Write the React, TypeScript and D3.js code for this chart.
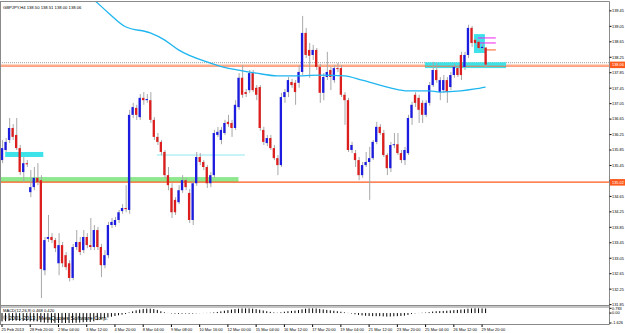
import * as React from 'react'
import * as d3 from 'd3'

// GBPJPY H4 candles
const opens = [
  135.59, 135.85, 136.11, 136.42, 136.24, 135.90, 135.28, 135.51, 134.76, 134.89, 135.13, 135.07, 132.74, 133.55,
  133.60, 133.52, 132.92, 133.39, 133.13, 132.92, 132.54, 133.34, 133.47, 133.26, 133.60, 133.39, 133.34, 133.78,
  133.34, 132.87, 133.13, 133.91, 133.91, 134.04, 134.27, 134.35, 134.30, 136.76, 136.94, 136.70, 137.20, 137.14,
  137.14, 136.63, 136.19, 136.06, 135.80, 135.20, 134.87, 134.56, 134.50, 134.81, 135.07, 134.74, 134.04, 134.99,
  135.67, 135.54, 135.41, 134.99, 135.20, 136.24, 136.11, 136.29, 136.58, 136.55, 136.42, 136.96, 137.72, 137.35,
  137.40, 137.84, 137.46, 137.48, 136.37, 136.03, 136.16, 135.90, 135.64, 135.46, 137.22, 137.35, 137.61, 137.59,
  137.59, 137.87, 138.88, 138.44, 138.31, 138.44, 138.00, 137.33, 137.74, 137.92, 137.66, 137.97, 137.97, 137.28,
  137.14, 135.85, 135.77, 135.59, 135.20, 135.46, 135.54, 135.64, 136.06, 136.45, 136.29, 135.72, 135.38, 135.98,
  136.00, 135.77, 135.59, 135.77, 136.68, 137.28, 137.20, 137.07, 136.76, 137.07, 137.53, 137.92, 137.35, 137.40,
  137.66, 137.48, 137.79, 137.97, 138.31, 138.00, 138.31, 139.01, 138.70, 138.65, 138.49, 138.50,
]
const highs = [
  136.11, 136.16, 136.68, 136.52, 136.68, 135.98, 135.67, 135.59, 135.33, 135.41, 135.51, 135.20, 133.60, 134.17,
  133.70, 133.57, 133.70, 133.47, 133.21, 133.00, 133.42, 133.78, 133.60, 133.78, 133.70, 134.09, 133.91, 133.86,
  133.42, 133.26, 133.99, 134.09, 134.12, 134.30, 134.45, 134.94, 136.89, 137.07, 137.02, 137.30, 137.35, 137.30,
  137.35, 136.70, 136.29, 136.11, 135.85, 135.41, 134.99, 134.63, 134.94, 135.20, 135.13, 134.84, 135.07, 135.80,
  135.77, 135.59, 135.46, 135.28, 136.37, 136.45, 136.45, 136.63, 136.76, 136.63, 137.14, 137.84, 138.05, 137.43,
  137.92, 137.92, 137.53, 137.53, 136.45, 136.24, 136.24, 135.98, 135.72, 137.33, 137.43, 137.74, 137.69, 137.66,
  138.05, 139.32, 139.01, 138.62, 138.57, 138.49, 138.08, 137.84, 138.39, 138.00, 138.05, 138.10, 138.05, 137.35,
  137.20, 136.06, 135.85, 135.67, 135.54, 135.80, 135.93, 136.11, 136.58, 136.52, 136.37, 135.77, 136.06, 136.29,
  136.29, 135.85, 135.93, 136.76, 137.10, 137.35, 137.28, 137.14, 137.14, 137.61, 138.13, 138.10, 137.74, 137.79,
  137.74, 137.87, 138.08, 138.05, 138.39, 138.39, 139.09, 139.06, 138.75, 138.70, 138.60, 138.51,
]
const lows = [
  135.51, 135.80, 136.03, 136.11, 135.85, 135.20, 135.02, 135.41, 134.63, 134.81, 134.94, 132.02, 132.61, 133.47,
  133.44, 133.21, 132.61, 132.82, 132.74, 132.45, 132.48, 133.26, 133.13, 133.18, 133.31, 133.26, 133.26, 133.26,
  132.56, 132.79, 133.05, 133.83, 133.86, 133.96, 134.20, 134.24, 134.20, 136.68, 136.63, 136.63, 137.02, 137.07,
  136.55, 136.11, 135.98, 135.72, 135.13, 134.81, 134.09, 134.17, 134.45, 134.74, 134.81, 133.96, 133.91, 134.92,
  135.46, 135.33, 134.87, 134.89, 135.13, 136.19, 136.00, 136.24, 136.45, 136.19, 136.37, 136.89, 137.20, 137.22,
  137.33, 137.35, 137.14, 136.35, 135.98, 135.95, 135.85, 135.59, 135.20, 135.41, 137.07, 137.22, 137.46, 137.02,
  137.46, 137.79, 138.23, 137.72, 138.18, 137.92, 137.07, 137.14, 137.66, 137.40, 137.59, 137.87, 137.22, 136.50,
  135.80, 135.77, 135.41, 135.07, 135.13, 135.41, 134.56, 135.59, 136.00, 136.24, 135.67, 135.20, 135.28, 135.90,
  135.72, 135.51, 135.46, 135.72, 136.50, 136.96, 136.55, 136.55, 136.70, 137.00, 137.48, 137.59, 137.14, 137.33,
  137.07, 137.40, 137.72, 137.74, 137.66, 137.92, 138.23, 138.52, 138.57, 138.44, 138.44, 138.00,
]
const closes = [
  135.90, 136.06, 136.42, 136.19, 135.90, 135.28, 135.51, 135.48, 134.89, 135.13, 135.02, 132.77, 133.52, 133.60,
  133.52, 133.31, 133.39, 132.92, 132.82, 132.54, 133.34, 133.47, 133.21, 133.60, 133.39, 133.34, 133.78, 133.34,
  132.87, 133.13, 133.91, 133.99, 134.04, 134.24, 134.35, 134.32, 136.76, 136.96, 136.76, 137.20, 137.14, 137.17,
  136.63, 136.19, 136.06, 135.80, 135.20, 134.94, 134.24, 134.24, 134.81, 135.07, 134.89, 134.04, 134.99, 135.67,
  135.54, 135.41, 134.99, 135.20, 136.29, 136.32, 136.37, 136.55, 136.52, 136.42, 137.02, 137.72, 137.28, 137.30,
  137.84, 137.40, 137.28, 136.42, 136.06, 136.16, 135.90, 135.64, 135.46, 137.22, 137.35, 137.66, 137.53, 137.35,
  137.87, 138.88, 138.31, 138.29, 138.44, 138.00, 137.33, 137.74, 137.87, 137.74, 137.97, 137.95, 137.28, 137.14,
  135.85, 135.98, 135.59, 135.20, 135.46, 135.54, 135.64, 136.06, 136.45, 136.29, 135.72, 135.38, 135.98, 136.00,
  135.77, 135.59, 135.85, 136.68, 137.02, 137.07, 136.89, 136.76, 137.07, 137.53, 137.92, 137.66, 137.66, 137.66,
  137.35, 137.79, 138.00, 137.79, 137.79, 138.31, 139.01, 138.62, 138.62, 138.49, 138.52, 138.06,
]

// moving average (bar index / value knots)
const maBars = [22, 26, 30, 35, 42, 46, 50, 59, 63, 67, 72, 78, 85, 90, 97, 102, 110, 115, 121, 124, 130, 134, 137]
const maValues = [
  140.05, 139.74, 139.41, 139.04, 138.88, 138.70, 138.44, 138.10, 137.99, 137.92, 137.84, 137.77, 137.77, 137.79,
  137.77, 137.66, 137.46, 137.38, 137.38, 137.35, 137.38, 137.43, 137.48,
]

// MACD(12,26,9) histogram
const macd = [
  -1.35, -1.33, -1.28, -1.25, -1.24, -1.28, -1.30, -1.30, -1.35, -1.36, -1.36,
  -1.50, -1.56, -1.58, -1.60, -1.61, -1.62, -1.62, -1.62, -1.62, -1.60, -1.58, -1.55, -1.50, -1.45,
  -1.45, -1.35, -1.15, -0.98, -0.88, -0.72, -0.60, -0.48, -0.36, -0.26, -0.15,
  0.10, 0.28, 0.45, 0.58, 0.68, 0.72, 0.72, 0.66, 0.52, 0.30, 0.12, 0.02, -0.06, -0.10, -0.12, -0.10, -0.08, -0.10,
  -0.08, -0.04, -0.02,
  0.02, 0.03, 0.05, 0.10, 0.18, 0.28, 0.38, 0.48, 0.58, 0.66, 0.72, 0.76, 0.77, 0.76, 0.72, 0.65, 0.55, 0.42, 0.30,
  0.20, 0.10, 0.05,
  0.12, 0.22, 0.30, 0.36, 0.40, 0.48, 0.62, 0.72, 0.76, 0.77, 0.75, 0.68, 0.60, 0.52, 0.45, 0.38, 0.30, 0.22, 0.12,
  0.03,
  -0.08, -0.20, -0.30, -0.38, -0.44, -0.48, -0.50, -0.50, -0.50, -0.54, -0.58, -0.56, -0.52, -0.50, -0.48, -0.42,
  -0.30, -0.15, -0.05,
  0.02, 0.05, 0.08, 0.15, 0.25, 0.30, 0.32, 0.35, 0.38, 0.42, 0.48, 0.52, 0.58, 0.62, 0.72, 0.76, 0.78, 0.78, 0.77,
  0.75,
]

const timeLabels = [
  '25 Feb 2013', '28 Feb 20:00', '2 Mar 04:00', '3 Mar 12:00', '4 Mar 20:00', '8 Mar 04:00', '9 Mar 08:00',
  '10 Mar 16:00', '12 Mar 00:00', '15 Mar 04:00', '16 Mar 12:00', '17 Mar 20:00', '19 Mar 04:00', '21 Mar 12:00',
  '23 Mar 20:00', '25 Mar 04:00', '26 Mar 12:00', '29 Mar 20:00',
]
const priceTicks = [
  139.45, 139.05, 138.65, 138.25, 137.85, 137.45, 137.05, 136.65, 136.25, 135.85, 135.45, 135.05, 134.65, 134.25,
  133.85, 133.45, 133.05, 132.65, 132.25, 131.85,
]
const macdTicks = [0.783, 0, -1.626]

// chart objects (bars / prices)
const zones = [
  { from: -0.6, to: 67, top: 135.15, bottom: 135.02, color: '#8ee88e' },
  { from: 0.9, to: 11.7, top: 135.80, bottom: 135.67, color: '#3ee3ea' },
  { from: 119.8, to: 142.8, top: 138.12, bottom: 137.97, color: '#3ee3ea' },
  { from: 133.7, to: 136.8, top: 138.85, bottom: 138.36, color: '#3ee3ea' },
]
const segments = [
  { from: 43.9, to: 68.8, price: 135.72, color: '#8fe6f0' },
  { from: 134.8, to: 139.9, price: 138.75, color: '#f020f0' },
  { from: 134.8, to: 139.9, price: 138.62, color: '#f020f0' },
  { from: 136.8, to: 139.9, price: 138.44, color: '#ff5a1e' },
]
const levelLine = 135.02
const bidPrice = 138.06
const askPrice = 138.11

const font = '"Liberation Sans", Arial, sans-serif'

export default function App() {
  const x = d3.scaleLinear().domain([0, 137]).range([2, 485.6])
  const y = d3.scaleLinear().domain([131.84, 139.68]).range([305, 2])
  const ym = d3.scaleLinear().domain([-1.626, 0.783]).range([323, 308.3])

  const ma = d3
    .line<number>()
    .x((d, i) => x(maBars[i]))
    .y((d) => y(d))
    .curve(d3.curveMonotoneX)(maValues)

  const bodyW = 2.3

  return (
    <svg width={625} height={333} style={{ position: 'absolute', left: 0, top: 0, background: '#fff' }}>
      <defs>
        <clipPath id="main">
          <rect x={1} y={2} width={608} height={303} />
        </clipPath>
        <clipPath id="sub">
          <rect x={1} y={307} width={608} height={17} />
        </clipPath>
      </defs>
      <rect width={625} height={333} fill="#fff" />

      <g clipPath="url(#main)">
        <line x1={0} x2={609} y1={y(askPrice)} y2={y(askPrice)} stroke="#a0a0a0" strokeDasharray="1,1" />
        <line x1={0} x2={609} y1={y(bidPrice) + 0.5} y2={y(bidPrice) + 0.5} stroke="#ffb08a" strokeWidth={1.2} />
        {zones.map((z, i) => (
          <rect key={'z' + i} x={x(z.from)} width={x(z.to) - x(z.from)} y={y(z.top)} height={y(z.bottom) - y(z.top)} fill={z.color} />
        ))}
        {segments.map((s, i) => (
          <line key={'s' + i} x1={x(s.from)} x2={x(s.to)} y1={y(s.price)} y2={y(s.price)} stroke={s.color} strokeWidth={1} />
        ))}
        <line x1={0} x2={609} y1={y(bidPrice) + 1.6} y2={y(bidPrice) + 1.6} stroke="#ff6a3a" strokeWidth={0.9} />
        <line x1={0} x2={609} y1={y(levelLine)} y2={y(levelLine)} stroke="#ff5a1e" strokeWidth={1.2} />

        {opens.map((o, i) => {
          const c = closes[i]
          const up = c >= o
          const cx = x(i)
          const top = y(Math.max(o, c))
          const h = Math.max(1, Math.abs(y(o) - y(c)))
          return (
            <g key={'c' + i}>
              <line x1={cx + 0.6} x2={cx + 0.6} y1={y(highs[i])} y2={y(lows[i])} stroke="#a8a8a8" strokeWidth={1} />
              <rect x={cx - bodyW / 2} y={top} width={bodyW} height={h} fill={up ? '#1c1ce0' : '#dc1e1e'} />
            </g>
          )
        })}

        <path d={ma ?? ''} fill="none" stroke="#1fb6f0" strokeWidth={1.3} />
      </g>

      <text x={3} y={8.5} fontFamily={font} fontSize={4.2} fill="#000">
        GBPJPY,H4 138.50 138.51 138.00 138.06
      </text>

      {/* MACD window */}
      <g clipPath="url(#sub)">
        {macd.map((v, i) => (
          <line key={'m' + i} x1={x(i)} x2={x(i)} y1={ym(0)} y2={ym(v)} stroke="#000" strokeWidth={1} />
        ))}
      </g>
      <text x={3} y={312} fontFamily={font} fontSize={4.1} fill="#000">
        MACD(12,26,9) 0.468 0.420
      </text>
      <text x={3} y={319.5} fontFamily={font} fontSize={5.6} fill="#000">
        © 2001-2013, MetaQuotes Software Corp.
      </text>

      {/* frames */}
      <g stroke="#8a8a8a" strokeWidth={1} fill="none">
        <line x1={0} x2={609.5} y1={1.5} y2={1.5} />
        <line x1={0.5} x2={0.5} y1={1.5} y2={324.5} />
        <line x1={609.5} x2={609.5} y1={1.5} y2={324.5} />
        <line x1={0} x2={609.5} y1={305.5} y2={305.5} />
        <line x1={0} x2={609.5} y1={307} y2={307} />
        <line x1={0} x2={609.5} y1={324.5} y2={324.5} />
      </g>

      {/* price axis */}
      {priceTicks.map((p) => (
        <g key={'p' + p}>
          <line x1={609.5} x2={611.5} y1={y(p)} y2={y(p)} stroke="#000" />
          <text x={612} y={y(p)} dy="0.35em" fontFamily={font} fontSize={3.9} fill="#000">
            {p.toFixed(2)}
          </text>
        </g>
      ))}
      {[levelLine, bidPrice].map((p) => (
        <g key={'hl' + p}>
          <rect x={610} y={y(p) - 3} width={15} height={6.5} fill="#ff5a1e" />
          <text x={612} y={y(p) + 0.3} dy="0.35em" fontFamily={font} fontSize={3.9} fill="#fff">
            {p.toFixed(2)}
          </text>
        </g>
      ))}
      {macdTicks.map((v) => (
        <g key={'mt' + v}>
          <line x1={609.5} x2={611.5} y1={ym(v)} y2={ym(v)} stroke="#000" />
          <text x={612} y={ym(v)} dy="0.35em" fontFamily={font} fontSize={3.9} fill="#000">
            {v === 0 ? '0.00' : v.toFixed(3)}
          </text>
        </g>
      ))}

      {/* time axis */}
      {timeLabels.map((t, k) => (
        <g key={'t' + k}>
          <line x1={x(k * 8)} x2={x(k * 8)} y1={324.5} y2={327} stroke="#000" />
          <text x={x(k * 8) - 0.5} y={331} fontFamily={font} fontSize={4} fill="#000">
            {t}
          </text>
        </g>
      ))}
    </svg>
  )
}
